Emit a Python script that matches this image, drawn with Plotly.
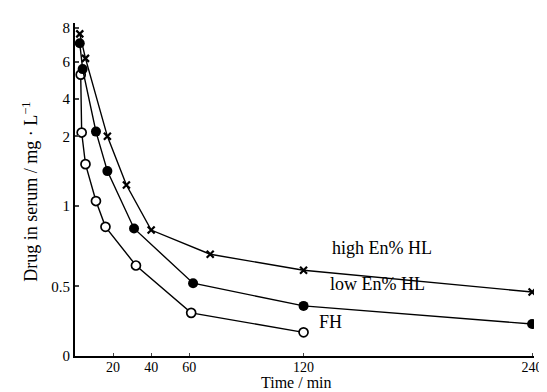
import numpy as np
import plotly.graph_objects as go

# ---- data ----
high_time = [2.5, 5.5, 17, 27, 40, 71, 120, 240]
high_conc = [7.65, 6.2, 2.0, 1.3, 0.85, 0.70, 0.60, 0.46]

low_time = [2.5, 4, 11, 17, 31, 62, 120, 240]
low_conc = [7.1, 5.6, 2.25, 1.5, 0.86, 0.52, 0.36, 0.23]

fh_time = [3, 3.5, 5.5, 11, 16, 32, 61, 120]
fh_conc = [5.3, 2.2, 1.6, 1.07, 0.87, 0.63, 0.31, 0.17]

x_ticks = [20, 40, 60, 120, 240]
y_tick_values = [0, 0.5, 1, 2, 4, 6, 8]
y_tick_labels = ["0", "0.5", "1", "2", "4", "6", "8"]

# ---- broken (piecewise) concentration scale of the original axis ----
AXIS_BREAKS = [0, 70, 151, 221, 259, 296, 330]


def yscale(v):
    return np.interp(v, y_tick_values, AXIS_BREAKS)


FONT = "Liberation Serif"
fig = go.Figure()

fig.add_trace(go.Scatter(
    x=fh_time, y=yscale(fh_conc), mode="lines+markers",
    line=dict(color="black", width=1.4),
    marker=dict(symbol="circle", size=9, color="white",
                line=dict(color="black", width=1.7)),
    showlegend=False))
fig.add_trace(go.Scatter(
    x=low_time, y=yscale(low_conc), mode="lines+markers",
    line=dict(color="black", width=1.4),
    marker=dict(symbol="circle", size=10, color="black"),
    showlegend=False))
fig.add_trace(go.Scatter(
    x=high_time, y=yscale(high_conc), mode="lines+markers",
    line=dict(color="black", width=1.4),
    marker=dict(symbol="x-thin", size=7, color="black",
                line=dict(color="black", width=2.2)),
    showlegend=False))

L, R, T, B = 67, 18, 14, 44
W, H = 547, 392
pw, ph = W - L - R, H - T - B


def px(xp):
    return (xp - L) / pw


def py(yp):
    return (H - B - yp) / ph


ann = [
    dict(text="Drug in serum / mg \u00b7 L<sup>\u22121</sup>", x=px(22), y=py(183),
         textangle=-90, font=dict(size=18)),
    dict(text="Time / min", x=px(290), y=py(385), font=dict(size=16)),
    dict(text="high En% HL", x=px(324), y=py(252), xanchor="left", font=dict(size=18)),
    dict(text="low En% HL", x=px(322), y=py(288), xanchor="left", font=dict(size=18)),
    dict(text="FH", x=px(311), y=py(326), xanchor="left", font=dict(size=18)),
]
for a in ann:
    a.update(xref="paper", yref="paper", showarrow=False)
    a.setdefault("xanchor", "center")
    a["font"].update(family=FONT, color="black")

fig.update_layout(
    width=W, height=H,
    margin=dict(l=L, r=R, t=T, b=B),
    paper_bgcolor="white", plot_bgcolor="white",
    font=dict(family=FONT, size=15, color="black"),
    annotations=ann,
    xaxis=dict(range=[0, 241], tickvals=x_ticks, ticks="inside", ticklen=3,
               tickwidth=1, showgrid=False, zeroline=False, showline=True,
               linecolor="black", linewidth=1.6, tickfont=dict(size=14),
               ticklabelstandoff=-3),
    yaxis=dict(range=[0, 335], tickvals=list(yscale(y_tick_values)),
               ticktext=y_tick_labels, ticks="inside", ticklen=4, tickwidth=1.5,
               showgrid=False, zeroline=False, showline=True,
               linecolor="black", linewidth=2.2, tickfont=dict(size=15)),
)

fig.write_html("out.html")
